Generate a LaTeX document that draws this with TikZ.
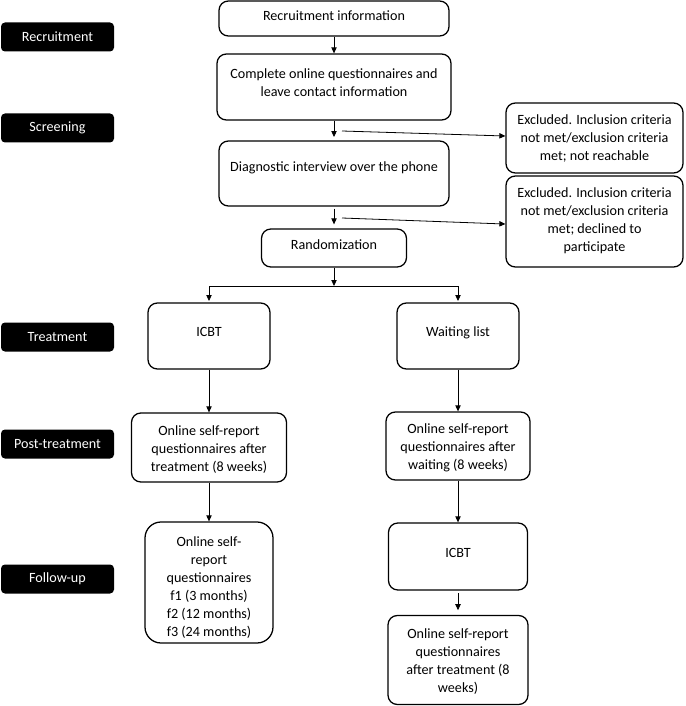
\documentclass[tikz,border=0pt]{standalone}
\usepackage{fontspec}
\setmainfont{Carlito}
\usetikzlibrary{arrows.meta}
\newcommand\pxu[1]{#1*0.75pt}
\begin{document}
\begin{tikzpicture}[x=0.75pt,y=-0.75pt,
  box/.style={draw, line width=0.95pt, rounded corners=7pt, inner sep=0pt},
  fubox/.style={box, rounded corners=12pt},
  txt/.style={inner sep=0pt, align=center, font=\fontsize{10.6pt}{13.5pt}\selectfont},
  lbl/.style={fill=black, text=white, rounded corners=3pt, inner sep=0pt,
    minimum width=\pxu{113}, minimum height=\pxu{29},
    font=\fontsize{10.6pt}{13.5pt}\selectfont},
  arr/.style={line width=0.6pt, -{Triangle[length=4.5pt,width=4pt]}},
  ln/.style={line width=0.6pt}]
\useasboundingbox (0,0) rectangle (685,706);

% stage labels
\node[lbl] (Lrec)  at (57.5,37)  {Recruitment};
\node[lbl] (Lscr)  at (57.5,128) {Screening};
\node[lbl] (Ltrt)  at (57.5,337) {Treatment};
\node[lbl] (Lpost) at (57.5,444) {Post-treatment};
\node[lbl] (Lfu)   at (57.5,579) {Follow-up};

% main column boxes
\node[box, minimum width=\pxu{230}, minimum height=\pxu{35}] (rinfo) at (334,18.5) {};
\node[txt] (trinfo) at (334,16) {Recruitment information};
\node[box, minimum width=\pxu{234}, minimum height=\pxu{66}] (complete) at (334,87) {};
\node[txt] (tcomplete) at (334,82.5) {Complete online questionnaires and\\leave contact information};
\node[box, minimum width=\pxu{230}, minimum height=\pxu{65}] (diag) at (334,173.5) {};
\node[txt] (tdiag) at (334,168) {Diagnostic interview over the phone};
\node[box, minimum width=\pxu{145}, minimum height=\pxu{38}] (rand) at (334,248) {};
\node[txt] (trand) at (334,245) {Randomization};

% exclusion boxes
\node[box, minimum width=\pxu{177}, minimum height=\pxu{70}] (excl1) at (594.5,138) {};
\node[txt] (texcl1) at (594.5,138) {Excluded. Inclusion criteria\\not met/exclusion criteria\\met; not reachable};
\node[box, minimum width=\pxu{177}, minimum height=\pxu{91}] (excl2) at (594.5,221.5) {};
\node[txt] (texcl2) at (594.5,220.5) {Excluded. Inclusion criteria\\not met/exclusion criteria\\met; declined to\\participate};

% left arm
\node[box, minimum width=\pxu{122}, minimum height=\pxu{66}] (icbt1) at (209,336) {};
\node[txt] (ticbt1) at (209,332) {ICBT};
\node[box, minimum width=\pxu{155}, minimum height=\pxu{69}] (post1) at (209,447.5) {};
\node[txt] (tpost1) at (209,449.5) {Online self-report\\questionnaires after\\treatment (8 weeks)};
\node[fubox, minimum width=\pxu{128}, minimum height=\pxu{121}] (fu1) at (209,582.5) {};
\node[txt] (tfu1) at (209,587.5) {Online self-\\report\\questionnaires\\f1 (3 months)\\f2 (12 months)\\f3 (24 months)};

% right arm
\node[box, minimum width=\pxu{122}, minimum height=\pxu{66}] (wait) at (458,336) {};
\node[txt] (twait) at (458,333) {Waiting list};
\node[box, minimum width=\pxu{144}, minimum height=\pxu{68}] (post2) at (458,446) {};
\node[txt] (tpost2) at (458,448) {Online self-report\\questionnaires after\\waiting (8 weeks)};
\node[box, minimum width=\pxu{139}, minimum height=\pxu{67}] (icbt2) at (458,556.5) {};
\node[txt] (ticbt2) at (458,553) {ICBT};
\node[box, minimum width=\pxu{140}, minimum height=\pxu{89}] (post3) at (458,660) {};
\node[txt] (tpost3) at (458,661.5) {Online self-report\\questionnaires\\after treatment (8\\weeks)};

% connectors
\draw[arr] (rinfo.south) -- (complete.north);
\draw[arr, shorten >=2.5pt] (complete.south) -- (diag.north);
\draw[arr, shorten <=1.5pt, shorten >=3pt] (diag.south) -- (rand.north);
\coordinate (b1) at (342,131);
\coordinate (b2) at (342,218);
\draw[arr] (b1) -- ([yshift=1.5pt]excl1.west);
\draw[arr] (b2) -- ([yshift=-1.9pt]excl2.west);

\coordinate (split) at (334,286);
\coordinate (sl) at (209,286);
\coordinate (sr) at (458,286);
\draw[arr] (rand.south) -- (split);
\draw[ln] (sl) -- (sr);
\draw[arr, shorten >=1pt] (sl) -- (icbt1.north);
\draw[arr, shorten >=1pt] (sr) -- (wait.north);

\draw[arr] (icbt1.south) -- (post1.north);
\draw[arr] (post1.south) -- (fu1.north);
\draw[arr] (wait.south) -- (post2.north);
\draw[arr] (post2.south) -- (icbt2.north);
\draw[arr, shorten <=2pt, shorten >=3.5pt] (icbt2.south) -- (post3.north);
\end{tikzpicture}
\end{document}
